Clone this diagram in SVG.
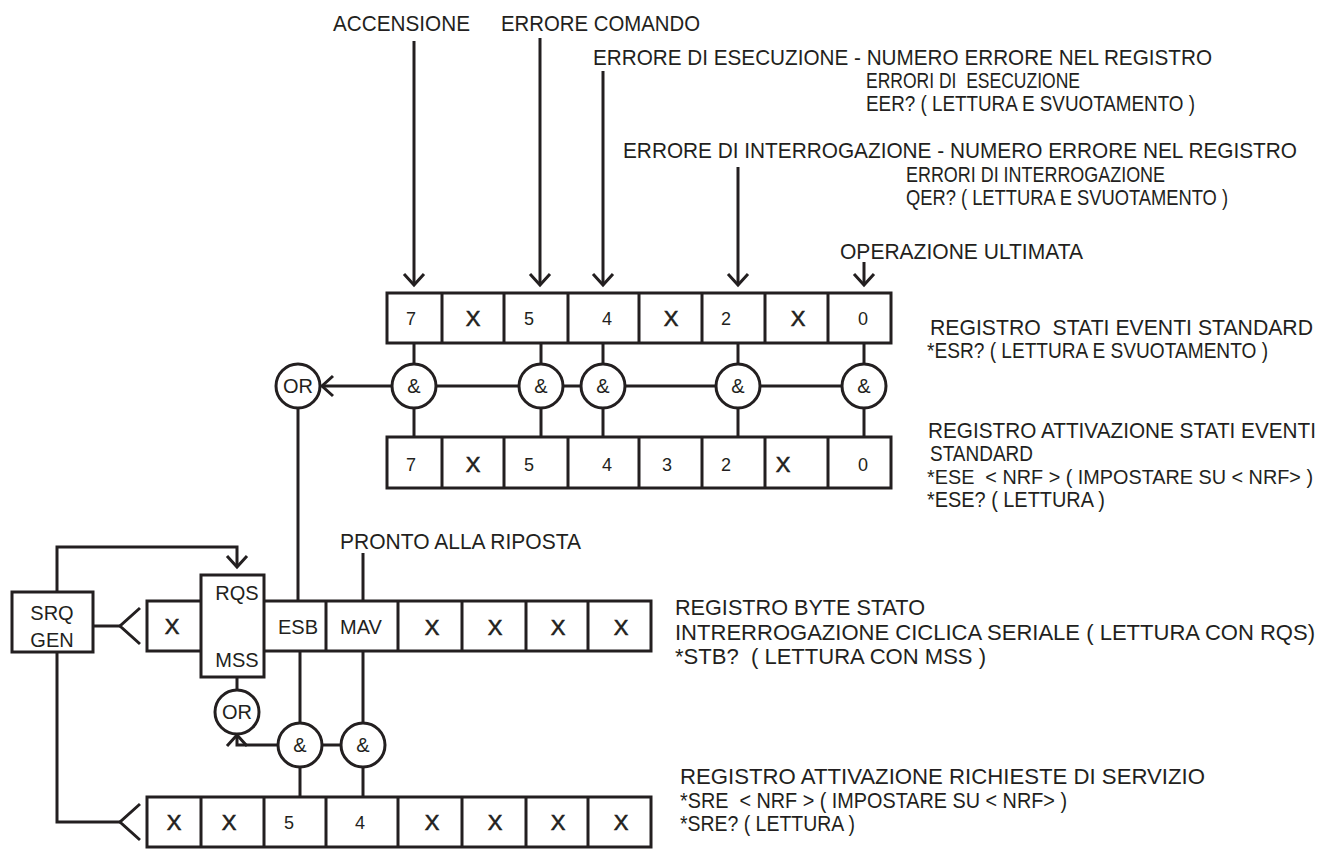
<svg xmlns="http://www.w3.org/2000/svg" width="1337" height="850" viewBox="0 0 1337 850">
<style>
.ln{stroke:#231f20;stroke-width:3;fill:none}
.bx{stroke:#231f20;stroke-width:3;fill:#fff}
.t{font-family:"Liberation Sans",Arial,sans-serif;font-size:22px;fill:#231f20;white-space:pre}
.s{font-size:20px}
.d{font-family:"Liberation Sans",Arial,sans-serif;font-size:18px;fill:#231f20;text-anchor:middle}
.x{font-family:"Liberation Sans",Arial,sans-serif;font-size:22px;fill:#231f20;text-anchor:middle;stroke:#231f20;stroke-width:0.6}
.c{font-family:"Liberation Sans",Arial,sans-serif;font-size:20px;fill:#231f20;text-anchor:middle}
</style>
<defs>
<marker id="ah" markerUnits="userSpaceOnUse" markerWidth="30" markerHeight="30" viewBox="-15 -15 30 30" refX="0" refY="0" orient="auto">
<path d="M-11,-10 L0,0 L-11,10" stroke="#231f20" stroke-width="3" fill="none"/>
</marker>
</defs>
<rect width="1337" height="850" fill="#fff"/>
<g id="connectors">
<line class="ln" x1="414" y1="41" x2="414" y2="285" marker-end="url(#ah)"/>
<line class="ln" x1="540" y1="38" x2="540" y2="285" marker-end="url(#ah)"/>
<line class="ln" x1="603" y1="71" x2="603" y2="285" marker-end="url(#ah)"/>
<line class="ln" x1="738" y1="167" x2="738" y2="285" marker-end="url(#ah)"/>
<line class="ln" x1="864" y1="262" x2="864" y2="285" marker-end="url(#ah)"/>
<line class="ln" x1="414" y1="343" x2="414" y2="437"/>
<line class="ln" x1="541" y1="343" x2="541" y2="437"/>
<line class="ln" x1="603" y1="343" x2="603" y2="437"/>
<line class="ln" x1="738" y1="343" x2="738" y2="437"/>
<line class="ln" x1="864" y1="343" x2="864" y2="437"/>
<line class="ln" x1="864" y1="386" x2="322" y2="386" marker-end="url(#ah)"/>
<line class="ln" x1="298" y1="408" x2="298" y2="601"/>
<line class="ln" x1="363" y1="553" x2="363" y2="601"/>
<polyline class="ln" points="57,592 57,547 237,547 237,567" marker-end="url(#ah)"/>
<line class="ln" x1="237" y1="677" x2="237" y2="690"/>
<line class="ln" x1="300" y1="651" x2="300" y2="797"/>
<line class="ln" x1="363" y1="651" x2="363" y2="797"/>
<line class="ln" x1="300" y1="745" x2="363" y2="745"/>
<polyline class="ln" points="278,745 237,745 237,735" marker-end="url(#ah)"/>
<line class="ln" x1="93" y1="626" x2="120" y2="626"/>
<polyline class="ln" points="140,608 120,626 140,644"/>
<polyline class="ln" points="57,652 57,822 120,822"/>
<polyline class="ln" points="140,804 120,822 140,840"/>
</g>
<g id="labels">
<text class="t" x="333" y="31" textLength="137" lengthAdjust="spacingAndGlyphs">ACCENSIONE</text>
<text class="t" x="501" y="31" textLength="199" lengthAdjust="spacingAndGlyphs">ERRORE COMANDO</text>
<text class="t" x="593" y="65" textLength="619" lengthAdjust="spacingAndGlyphs">ERRORE DI ESECUZIONE - NUMERO ERRORE NEL REGISTRO</text>
<text class="t" x="866" y="88" textLength="214" lengthAdjust="spacingAndGlyphs">ERRORI DI  ESECUZIONE</text>
<text class="t" x="866" y="111" textLength="329" lengthAdjust="spacingAndGlyphs">EER? ( LETTURA E SVUOTAMENTO )</text>
<text class="t" x="623" y="158" textLength="674" lengthAdjust="spacingAndGlyphs">ERRORE DI INTERROGAZIONE - NUMERO ERRORE NEL REGISTRO</text>
<text class="t" x="906" y="182" textLength="259" lengthAdjust="spacingAndGlyphs">ERRORI DI INTERROGAZIONE</text>
<text class="t" x="906" y="205" textLength="322" lengthAdjust="spacingAndGlyphs">QER? ( LETTURA E SVUOTAMENTO )</text>
<text class="t" x="840" y="259" textLength="243" lengthAdjust="spacingAndGlyphs">OPERAZIONE ULTIMATA</text>
<text class="t" x="930" y="335" textLength="383" lengthAdjust="spacingAndGlyphs">REGISTRO  STATI EVENTI STANDARD</text>
<text class="t" x="927" y="358" textLength="341" lengthAdjust="spacingAndGlyphs">*ESR? ( LETTURA E SVUOTAMENTO )</text>
<text class="t" x="928" y="438" textLength="388" lengthAdjust="spacingAndGlyphs">REGISTRO ATTIVAZIONE STATI EVENTI</text>
<text class="t" x="930" y="461" textLength="103" lengthAdjust="spacingAndGlyphs">STANDARD</text>
<text class="t s" x="927" y="484" textLength="386" lengthAdjust="spacingAndGlyphs">*ESE  &lt; NRF &gt; ( IMPOSTARE SU &lt; NRF&gt; )</text>
<text class="t" x="927" y="507" textLength="178" lengthAdjust="spacingAndGlyphs">*ESE? ( LETTURA )</text>
<text class="t" x="340" y="549" textLength="241" lengthAdjust="spacingAndGlyphs">PRONTO ALLA RIPOSTA</text>
<text class="t" x="675" y="615" textLength="250" lengthAdjust="spacingAndGlyphs">REGISTRO BYTE STATO</text>
<text class="t" x="675" y="640" textLength="640" lengthAdjust="spacingAndGlyphs">INTRERROGAZIONE CICLICA SERIALE ( LETTURA CON RQS)</text>
<text class="t" x="675" y="664" textLength="311" lengthAdjust="spacingAndGlyphs">*STB?  ( LETTURA CON MSS )</text>
<text class="t" x="680" y="784" textLength="525" lengthAdjust="spacingAndGlyphs">REGISTRO ATTIVAZIONE RICHIESTE DI SERVIZIO</text>
<text class="t" x="680" y="808" textLength="387" lengthAdjust="spacingAndGlyphs">*SRE  &lt; NRF &gt; ( IMPOSTARE SU &lt; NRF&gt; )</text>
<text class="t" x="680" y="831" textLength="175" lengthAdjust="spacingAndGlyphs">*SRE? ( LETTURA )</text>
</g>
<g id="esr-register">
<rect class="bx" x="387" y="293" width="504" height="50"/>
<path class="ln" d="M442,293V343M504,293V343M568,293V343M639,293V343M702,293V343M765,293V343M828,293V343"/>
<text class="d" x="411" y="325">7</text>
<text class="x" x="473" y="326">X</text>
<text class="d" x="529" y="325">5</text>
<text class="d" x="607" y="325">4</text>
<text class="x" x="671" y="326">X</text>
<text class="d" x="726" y="325">2</text>
<text class="x" x="798" y="326">X</text>
<text class="d" x="863" y="325">0</text>
</g>
<g id="ese-register">
<rect class="bx" x="387" y="437" width="504" height="51"/>
<path class="ln" d="M442,437V488M504,437V488M568,437V488M639,437V488M702,437V488M765,437V488M828,437V488"/>
<text class="d" x="411" y="471">7</text>
<text class="x" x="473" y="472">X</text>
<text class="d" x="529" y="471">5</text>
<text class="d" x="607" y="471">4</text>
<text class="d" x="667" y="471">3</text>
<text class="d" x="726" y="471">2</text>
<text class="x" x="783" y="472">X</text>
<text class="d" x="863" y="471">0</text>
</g>
<g id="and-gates-top">
<circle class="bx" cx="414" cy="386" r="22"/><text class="c" x="414" y="393">&amp;</text>
<circle class="bx" cx="541" cy="386" r="22"/><text class="c" x="541" y="393">&amp;</text>
<circle class="bx" cx="603" cy="386" r="22"/><text class="c" x="603" y="393">&amp;</text>
<circle class="bx" cx="738" cy="386" r="22"/><text class="c" x="738" y="393">&amp;</text>
<circle class="bx" cx="864" cy="386" r="22"/><text class="c" x="864" y="393">&amp;</text>
</g>
<g id="or-top">
<circle class="bx" cx="298" cy="386" r="22"/><text class="c" x="298" y="393">OR</text>
</g>
<g id="status-byte-register">
<rect class="bx" x="147" y="601" width="504" height="50"/>
<path class="ln" d="M326,601V651M398,601V651M462,601V651M526,601V651M588,601V651"/>
<rect class="bx" x="201" y="575" width="63" height="102"/>
<text class="x" x="172" y="634">X</text>
<text class="c" x="237" y="600">RQS</text>
<text class="c" x="237" y="667">MSS</text>
<text class="c" x="298" y="634">ESB</text>
<text class="c" x="361" y="634">MAV</text>
<text class="x" x="432" y="635">X</text>
<text class="x" x="495" y="635">X</text>
<text class="x" x="558" y="635">X</text>
<text class="x" x="621" y="635">X</text>
</g>
<g id="srq-gen">
<rect class="bx" x="12" y="592" width="81" height="60"/>
<text class="c" x="52" y="620">SRQ</text>
<text class="c" x="52" y="647">GEN</text>
</g>
<g id="or-bottom">
<circle class="bx" cx="237" cy="712" r="22"/><text class="c" x="237" y="719">OR</text>
</g>
<g id="and-gates-bottom">
<circle class="bx" cx="300" cy="745" r="22"/><text class="c" x="300" y="752">&amp;</text>
<circle class="bx" cx="363" cy="745" r="22"/><text class="c" x="363" y="752">&amp;</text>
</g>
<g id="sre-register">
<rect class="bx" x="147" y="797" width="504" height="50"/>
<path class="ln" d="M201,797V847M264,797V847M326,797V847M398,797V847M462,797V847M526,797V847M588,797V847"/>
<text class="x" x="174" y="830">X</text>
<text class="x" x="229" y="830">X</text>
<text class="d" x="289" y="829">5</text>
<text class="d" x="360" y="829">4</text>
<text class="x" x="432" y="830">X</text>
<text class="x" x="495" y="830">X</text>
<text class="x" x="558" y="830">X</text>
<text class="x" x="621" y="830">X</text>
</g>
</svg>
